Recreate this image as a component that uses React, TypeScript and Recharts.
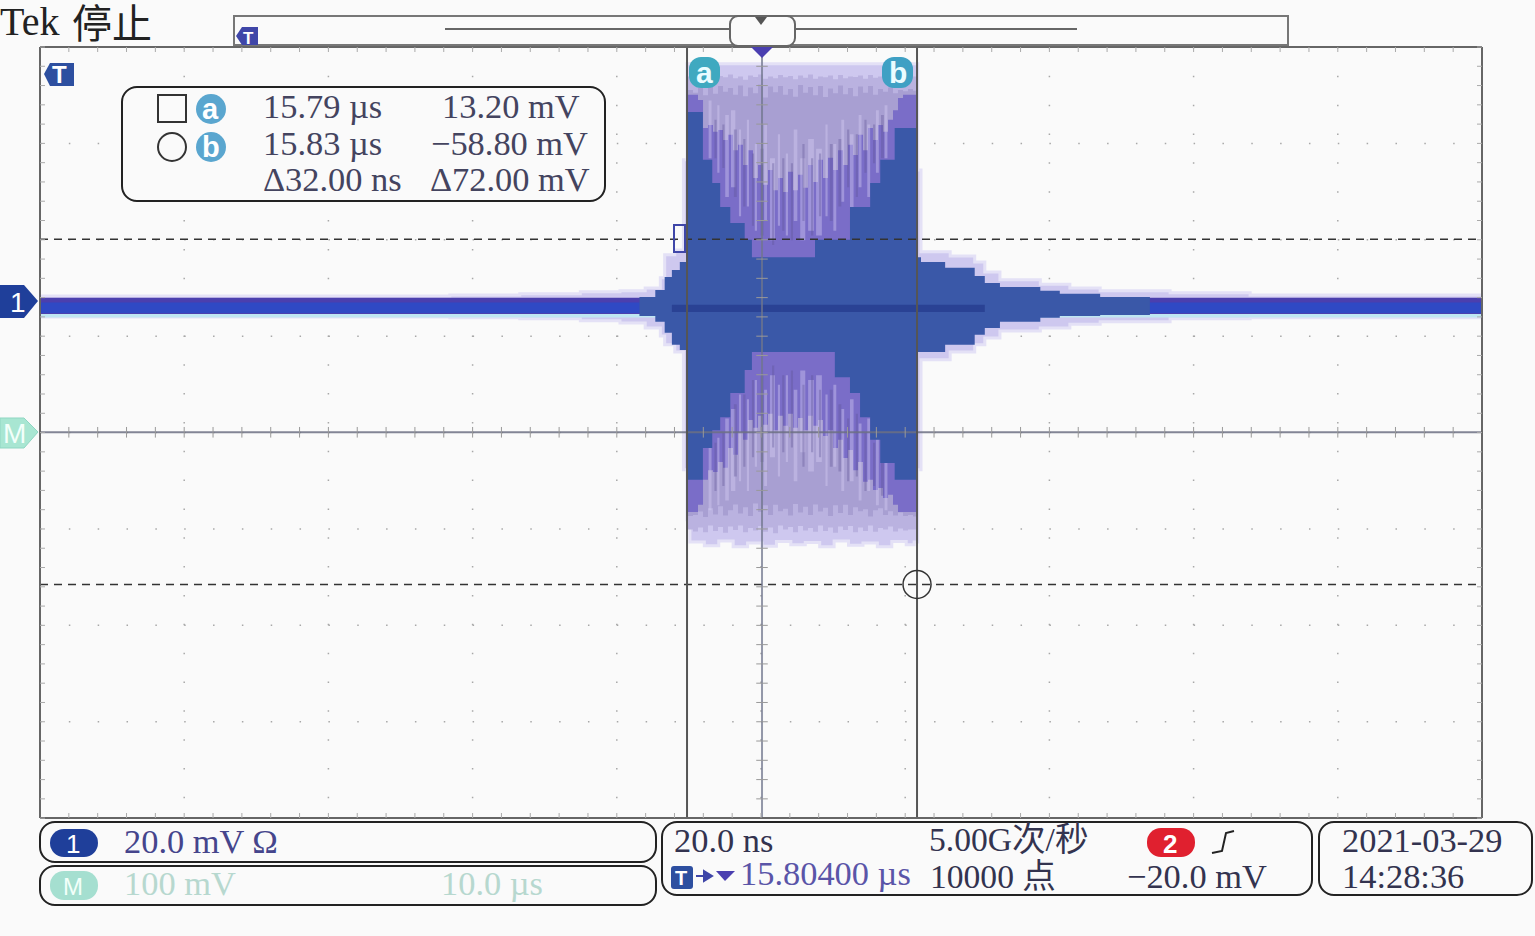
import { Area, ComposedChart, CartesianGrid, ReferenceDot, ReferenceLine, XAxis, YAxis } from "recharts";

const serif = '"Liberation Serif", "Noto Sans CJK SC", serif';
const sans = '"Liberation Sans", sans-serif';

// time in ns around the trigger, voltage in mV, 20 ns/div and 20 mV/div
const timeDomain = [-100.14, 99.86];
const voltDomain = [-106.87, 53.1];
const centerVolt = -26.84;
const cursorA = { time: -10.4, volt: 13.2 };
const cursorB = { time: 21.5, volt: -58.4 };

const gridTimes = Array.from({ length: 11 }, (_, i) => -100.14 + 20 * i);
const gridVolts = Array.from({ length: 9 }, (_, i) => 53.1 - 20 * i);
const fineTimes = Array.from({ length: 51 }, (_, i) => -100.14 + 4 * i);
const fineVolts = Array.from({ length: 41 }, (_, i) => 53.1 - 4 * i);

const haloTimes = [-100, -64, -43.3, -33.6, -25.2, -19.7, -16.2, -14.1, -13.5, -12.1, -10.9, -10.4, -10, -8, -6, -4, -2, 0, 2, 4, 6, 8, 10, 12, 14, 16, 18, 20, 21.1, 21.6, 22.05, 26.1, 29.5, 30.9, 33, 38.6, 42.7, 46.9, 56.6, 67.7, 100];
const haloUpper = [1.45, 1.45, 1.65, 1.9, 2.3, 2.5, 3.1, 5.2, 10, 11, 29.7, 49.6, 49.6, 49.6, 49.6, 49.6, 49.6, 49.6, 49.6, 49.6, 49.6, 49.6, 49.6, 49.6, 49.6, 49.6, 49.6, 49.6, 49.6, 27.6, 10.6, 9.75, 8.5, 6.4, 4.8, 3.9, 3.1, 2.5, 2.1, 1.65, 1.45];
const haloLower = [-2.9, -2.9, -3.1, -3.3, -3.7, -4.15, -5.2, -6.85, -8.7, -10.2, -34.6, -45, -49.6, -50.4, -49.4, -50.6, -49.8, -50.5, -49.5, -50.2, -49.7, -50.6, -49.4, -50.3, -49.8, -50.6, -49.5, -50.2, -49.6, -34.6, -11.8, -10.2, -8.7, -7.3, -5.8, -5.2, -4.4, -3.9, -3.3, -3.1, -2.9];

const baseTimes = [-100, 100];
const fringeUpper = [-0.4, -0.4];
const fringeLower = [-3, -3];
const bandUpper = [1.05, 1.05];
const bandLower = [-2.3, -2.3];
const coreUpper = [0.1, 0.1];
const coreLower = [-2.1, -2.1];

const burstTimes = [
  -10.26, -9.57, -8.88, -8.18, -7.49, -6.8, -6.1, -5.41, -4.72, -4.02,
  -3.33, -2.64, -1.94, -1.25, -0.55, 0.14, 0.83, 1.53, 2.22, 2.91,
  3.61, 4.3, 4.99, 5.69, 6.38, 7.07, 7.77, 8.46, 9.15, 9.85,
  10.54, 11.23, 11.93, 12.62, 13.31, 14.01, 14.7, 15.39, 16.09, 16.78,
  17.48, 18.17, 18.86, 19.56, 20.25, 20.94, 21.5,
];
const midUpper = [
  47, 46.5, 47.2, 46.7, 47.3, 46.4, 47.1, 46.8, 47.4, 46.6,
  47, 46.3, 47.2, 46.9, 47.4, 46.5, 47, 46.6, 47.3, 46.8,
  47.1, 46.4, 47.2, 46.7, 47.4, 46.5, 47, 46.8, 47.2, 46.4,
  47.3, 46.6, 47, 46.9, 47.2, 46.5, 47.3, 46.7, 47, 46.6,
  47.1, 46.8, 47, 46.7, 47, 47, 47,
];
const midLower = [
  -47, -47.4, -46.6, -47.6, -46.2, -47.3, -46.5, -47.7, -46.4, -47.1,
  -46.2, -47.6, -46.7, -47.2, -46.3, -47.5, -46.6, -47.8, -46.2, -47,
  -46.5, -47.6, -46.3, -47.2, -46.7, -47.5, -46.2, -47.3, -46.6, -47.7,
  -46.4, -47.1, -46.3, -47.6, -46.6, -47.3, -46.2, -47.5, -46.7, -47,
  -46.4, -47.4, -46.8, -47.2, -47, -47, -47,
];
const greyUpper = [
  44.2, 43.6, 44.6, 43.1, 44.8, 43.4, 45, 43.8, 44.6, 43.2,
  45.1, 42.9, 44.7, 43.5, 45.3, 42.6, 44.9, 43.7, 45, 43.2,
  44.4, 42.8, 45.2, 43.6, 44.8, 43.1, 45, 42.7, 44.5, 43.5,
  45.1, 43.3, 44.6, 42.9, 44.9, 43.6, 45, 43.2, 44.4, 43.8,
  44.7, 43.5, 44.2, 43.9, 44.4, 44, 44,
];
const greyLower = [
  -44.2, -44, -43.3, -44.4, -42.6, -43.9, -42.2, -44.1, -43, -41.8,
  -43.7, -42.4, -44.2, -41.6, -43.4, -42, -44, -41.9, -43.2, -42.7,
  -44.1, -41.7, -43.5, -42.3, -44, -41.8, -43.3, -42.5, -44.2, -42,
  -43.6, -41.9, -44, -42.4, -43.2, -42.8, -44.3, -43, -42.6, -44,
  -43.2, -44.1, -43.5, -44.2, -44, -44.3, -44.3,
];
const purpleUpper = [
  43.2, 43.2, 42.1, 36.3, 36.9, 35.5, 35.9, 33.8, 34.9, 31.7,
  32.8, 28.6, 31.7, 25.9, 28.6, 24.5, 27.6, 23.4, 25.9, 23,
  27.2, 23.4, 26.6, 23.9, 28.6, 25.1, 29.7, 25.9, 30.1, 27.6,
  31.7, 28.6, 32.8, 30.7, 34.9, 31.7, 36.3, 33.8, 36.9, 35.5,
  38, 40, 42.5, 43.2, 43.2, 43.2, 43.2,
];
const purpleLower = [
  -43.4, -43.4, -41.9, -36.7, -34.7, -35.1, -33, -34.2, -30.1, -31.5,
  -26.8, -28.4, -24.3, -25.9, -23.4, -25.3, -23, -26.4, -23.4, -25.5,
  -23, -25.9, -23.9, -26.4, -23.4, -25.5, -24.3, -27.6, -26.4, -30.1,
  -28.4, -32.2, -30.5, -34.7, -33, -37.1, -36.7, -38.8, -38.4, -40.5,
  -39.8, -41.9, -43.4, -43.4, -43.4, -43.4, -43.4,
];

// thin vertical streaks inside the burst, 0 means no streak in that slot
const streakTimes = [
  -7.4, -7, -6.2, -5.9, -5.1, -4.6, -4.3, -3.7, -3.2, -2.9,
  -2.1, -1.8, -1, -0.7, 0.3, 0.7, 1.1, 1.8, 2.2, 2.5,
  3.3, 3.6, 4.4, 4.9, 5.3, 6, 6.4, 7.2, 7.5, 8.3,
  8.8, 9.1, 9.9, 10.3, 11, 11.4, 12.2, 12.7, 13.4, 13.8,
  14.6, 15, 15.8, 16.2, 17, 17.4,
];
const lightTop = [
  42, 0, 41, 0, 39, 0, 40, 0, 36, 0,
  38, 0, 33, 0, 37, 0, 30, 0, 35, 0,
  31, 0, 36, 0, 30, 0, 34, 0, 32, 0,
  37, 0, 33, 0, 38, 0, 35, 0, 39, 0,
  37, 0, 40, 0, 41, 0,
];
const lightTopEnd = [
  30, 0, 27, 0, 22, 0, 24, 0, 18, 0,
  20, 0, 15, 0, 17, 0, 13, 0, 16, 0,
  14, 0, 17, 0, 13, 0, 15, 0, 14, 0,
  18, 0, 15, 0, 21, 0, 18, 0, 24, 0,
  22, 0, 27, 0, 30, 0,
];
const lightBottom = [
  -30, 0, -28, 0, -24, 0, -22, 0, -19, 0,
  -20, 0, -16, 0, -18, 0, -15, 0, -17, 0,
  -15, 0, -18, 0, -14, 0, -16, 0, -15, 0,
  -19, 0, -17, 0, -22, 0, -20, 0, -25, 0,
  -24, 0, -28, 0, -31, 0,
];
const lightBottomEnd = [
  -43, 0, -42, 0, -41, 0, -39, 0, -37, 0,
  -39, 0, -34, 0, -38, 0, -32, 0, -36, 0,
  -33, 0, -37, 0, -31, 0, -35, 0, -33, 0,
  -38, 0, -34, 0, -39, 0, -37, 0, -41, 0,
  -39, 0, -42, 0, -43, 0,
];
const darkStreakTimes = [
  -6.6, -6.3, -5.5, -5.2, -3.9, -3.5, -2.6, -2.3, -1.4, -1.1,
  -0.2, 0.2, 1.4, 1.7, 2.8, 3.1, 4, 4.3, 5.6, 5.9,
  6.8, 7.1, 7.9, 8.2, 9.4, 9.8, 10.6, 11, 11.8, 12.1,
  13, 13.3, 14.2, 14.5, 15.4, 15.7, 16.5, 16.9,
];
const darkTop = [
  38, 0, 37, 0, 36, 0, 34, 0, 31, 0,
  32, 0, 29, 0, 30, 0, 29, 0, 33, 0,
  30, 0, 31, 0, 33, 0, 34, 0, 36, 0,
  35, 0, 38, 0, 37, 0, 39, 0,
];
const darkTopEnd = [
  30, 0, 28, 0, 22, 0, 20, 0, 16, 0,
  14, 0, 12, 0, 15, 0, 13, 0, 17, 0,
  14, 0, 18, 0, 17, 0, 20, 0, 24, 0,
  22, 0, 27, 0, 29, 0, 30, 0,
];
const darkBottom = [
  -29, 0, -27, 0, -21, 0, -19, 0, -16, 0,
  -15, 0, -13, 0, -15, 0, -14, 0, -17, 0,
  -15, 0, -18, 0, -18, 0, -21, 0, -24, 0,
  -23, 0, -27, 0, -29, 0, -31, 0,
];
const darkBottomEnd = [
  -39, 0, -38, 0, -36, 0, -34, 0, -32, 0,
  -33, 0, -30, 0, -31, 0, -30, 0, -34, 0,
  -31, 0, -32, 0, -34, 0, -35, 0, -37, 0,
  -36, 0, -39, 0, -38, 0, -40, 0,
];

const blueTimes = [-17, -14.8, -13.5, -12.5, -11.4, -10.4, -10.3, -8.2, -6.9, -5.8, -4.4, -2.4, -1.4, 7.35, 10.1, 12.2, 13.6, 15, 16.4, 18.4, 20.8, 21.4, 22.05, 25.4, 29.5, 30.9, 33, 38.6, 41.3, 46.9, 53.8];
const blueUpper = [1.25, 2.7, 5.4, 6.85, 8.5, 11, 39.6, 29.7, 24.9, 19.9, 16.6, 13.1, 9.5, 13.1, 13.1, 19.9, 19.9, 24.9, 29.7, 36.3, 36.3, 9.5, 8.5, 7.3, 5.6, 4.15, 3.3, 2.5, 1.9, 1.25, 0.4];
const blueLower = [-2.7, -3.9, -6.2, -8.7, -9.75, -10.2, -36.7, -30.1, -26.4, -23.7, -18.7, -13.9, -10.2, -10.2, -15.4, -18.7, -23.7, -28.4, -33.2, -36.7, -36.7, -10.2, -10.2, -8.7, -6.6, -5.2, -3.9, -3.1, -2.7, -2.5, -1.9];

const darkTimes = [-12.5, 30.9];
const darkUpper = [-0.4, -0.4];
const darkLower = [-1.9, -1.9];

const rows = (times: number[], upper: number[], lower: number[]) =>
  times.map((time, i) => ({ time, range: [lower[i], upper[i]] }));

const layers = [
  { name: "halo", fill: "#cec8ef", opacity: 1, stroke: "#e4e1f6", data: rows(haloTimes, haloUpper, haloLower) },
  { name: "fringe", fill: "#bfe6f2", opacity: 1, stroke: "none", data: rows(baseTimes, fringeUpper, fringeLower) },
  { name: "band", fill: "#4b3fae", opacity: 1, stroke: "none", data: rows(baseTimes, bandUpper, bandLower) },
  { name: "core", fill: "#2f49c4", opacity: 1, stroke: "none", data: rows(baseTimes, coreUpper, coreLower) },
  { name: "mid", fill: "#bab2e0", opacity: 1, stroke: "none", data: rows(burstTimes, midUpper, midLower) },
  { name: "grey", fill: "#a89fd2", opacity: 1, stroke: "none", data: rows(burstTimes, greyUpper, greyLower) },
  { name: "purple", fill: "#7a6dc8", opacity: 1, stroke: "none", data: rows(burstTimes, purpleUpper, purpleLower) },
  { name: "lightTop", fill: "#d6d0f6", opacity: 0.4, stroke: "none", data: rows(streakTimes, lightTop, lightTopEnd) },
  { name: "lightBottom", fill: "#d6d0f6", opacity: 0.4, stroke: "none", data: rows(streakTimes, lightBottom, lightBottomEnd) },
  { name: "darkTop", fill: "#5f5496", opacity: 0.35, stroke: "none", data: rows(darkStreakTimes, darkTop, darkTopEnd) },
  { name: "darkBottom", fill: "#5f5496", opacity: 0.35, stroke: "none", data: rows(darkStreakTimes, darkBottom, darkBottomEnd) },
  { name: "blue", fill: "#3a58a8", opacity: 1, stroke: "none", data: rows(blueTimes, blueUpper, blueLower) },
  { name: "dark", fill: "#2a4294", opacity: 1, stroke: "none", data: rows(darkTimes, darkUpper, darkLower) },
];

function Txt({ x, base, size = 34.4, color = "#33334f", font = serif, bold = false, children }: any) {
  return (
    <div style={{ position: "absolute", left: x, top: base - 0.7875 * size, fontSize: size, lineHeight: 0.9, color, fontFamily: font, fontWeight: bold ? 700 : 400, whiteSpace: "pre" }}>
      {children}
    </div>
  );
}

function Panel({ x, y, w, h }: any) {
  return <rect x={x} y={y} width={w} height={h} rx={15} fill="#fafafa" stroke="#222" strokeWidth={2} />;
}

function Shapes() {
  return (
    <svg width={1535} height={936} style={{ position: "absolute", left: 0, top: 0 }}>
      {/* record overview strip */}
      <rect x={234} y={16} width={1054} height={29} fill="#fafafa" stroke="#777" strokeWidth={2} />
      <line x1={445} x2={1077} y1={29} y2={29} stroke="#666" strokeWidth={2} />
      <rect x={730} y={16} width={65} height={30} rx={8} fill="#fafafa" stroke="#666" strokeWidth={2} />
      <path d="M755 17 L767 17 L761 25 Z" fill="#555" />
      <path d="M236 36 L242 27 L258 27 L258 45 L242 45 Z" fill="#3f46a8" />
      {/* channel and reference flags */}
      <path d="M44 74 L50 63 L74 63 L74 86 L50 86 Z" fill="#2d4fa0" />
      <path d="M0 285 L24 285 L38 301 L24 318 L0 318 Z" fill="#1f3f9a" />
      <path d="M0 418 L24 418 L38 432 L24 448 L0 448 Z" fill="#a8e6d2" stroke="#8fd6c2" />
      <path d="M751 47 L773 47 L762 58 Z" fill="#4a3fb0" />
      <rect x={674} y={225} width={11} height={27} fill="none" stroke="#3f46a8" strokeWidth={2} />
      {/* cursor badges */}
      <rect x={689} y={57} width={31} height={31} rx={12} fill="#3fa9c0" />
      <rect x={882} y={57} width={31} height={31} rx={12} fill="#3fa0c4" />
      {/* readout box */}
      <rect x={122} y={87} width={483} height={114} rx={15} fill="#fafafa" stroke="#222" strokeWidth={2} />
      <rect x={158} y={95} width={28} height={27} fill="none" stroke="#333" strokeWidth={2} />
      <circle cx={172} cy={147} r={14} fill="none" stroke="#333" strokeWidth={2} />
      <circle cx={211} cy={109} r={15} fill="#5aa6cf" />
      <circle cx={211} cy={147} r={15} fill="#5aa6cf" />
      {/* status panels */}
      <Panel x={40} y={822} w={616} h={40} />
      <Panel x={40} y={866} w={616} h={39} />
      <Panel x={662} y={822} w={650} h={73} />
      <Panel x={1319} y={822} w={213} h={73} />
      <rect x={50} y={829} width={48} height={28} rx={14} fill="#1f3f9a" />
      <rect x={50} y={871} width={48} height={29} rx={14} fill="#a5dfd0" />
      <rect x={1147} y={828} width={48} height={29} rx={14} fill="#e0202f" />
      <path d="M1212 853 L1222 851 L1226 833 L1234 831" fill="none" stroke="#222" strokeWidth={2} />
      <rect x={671} y={866} width={22} height={23} rx={3} fill="#2d4fa0" />
      <path d="M696 876 L708 876 M704 871 L712 876 L704 881 Z" fill="#3f46a8" stroke="#3f46a8" strokeWidth={2} />
      <path d="M716 871 L735 871 L725 881 Z" fill="#4a3fb0" />
    </svg>
  );
}

function Labels() {
  return (
    <>
      <Txt x={0} base={35} size={40} color="#222">Tek</Txt>
      <Txt x={72} base={38} size={40} color="#222">停止</Txt>
      <Txt x={52} base={83} size={24} color="#fff" font={sans} bold>T</Txt>
      <Txt x={243} base={44} size={17} color="#fff" font={sans} bold>T</Txt>
      <Txt x={10} base={312} size={28} color="#fff" font={sans}>1</Txt>
      <Txt x={3} base={443} size={28} color="#f2fffa" font={sans}>M</Txt>
      <Txt x={696} base={83} size={30} color="#eafcff" font={sans} bold>a</Txt>
      <Txt x={889} base={83} size={30} color="#eafcff" font={sans} bold>b</Txt>
      <Txt x={202} base={119} size={29} color="#fff" font={sans} bold>a</Txt>
      <Txt x={202} base={157} size={29} color="#fff" font={sans} bold>b</Txt>

      <Txt x={263} base={118} color="#44445f">15.79 µs</Txt>
      <Txt x={442} base={118} color="#44445f">13.20 mV</Txt>
      <Txt x={263} base={155} color="#44445f">15.83 µs</Txt>
      <Txt x={431} base={155} color="#44445f">−58.80 mV</Txt>
      <Txt x={263} base={191} color="#44445f">Δ32.00 ns</Txt>
      <Txt x={430} base={191} color="#44445f">Δ72.00 mV</Txt>

      <Txt x={66} base={853} size={26} color="#fff" font={sans}>1</Txt>
      <Txt x={63} base={895} size={24} color="#f2fffa" font={sans}>M</Txt>
      <Txt x={124} base={853} color="#45458c">20.0 mV Ω</Txt>
      <Txt x={124} base={895} color="#b7d8cf">100 mV</Txt>
      <Txt x={441} base={895} color="#b7d8cf">10.0 µs</Txt>

      <Txt x={674} base={852}>20.0 ns</Txt>
      <Txt x={740} base={885} color="#5a55a8">15.80400 µs</Txt>
      <Txt x={929} base={851} size={33.6}>5.00G次/秒</Txt>
      <Txt x={930} base={888} size={33.6}>10000 点</Txt>
      <Txt x={1163} base={853} size={26} color="#fff" font={sans} bold>2</Txt>
      <Txt x={1127} base={888}>−20.0 mV</Txt>
      <Txt x={675} base={885} size={20} color="#fff" font={sans} bold>T</Txt>

      <Txt x={1342} base={852}>2021-03-29</Txt>
      <Txt x={1342} base={888}>14:28:36</Txt>
    </>
  );
}

export default function App() {
  const frame = { stroke: "#666", strokeWidth: 2 };
  const tickStyle = { stroke: "#aaa", strokeWidth: 1 };
  return (
    <div style={{ position: "absolute", left: 0, top: 0, width: 1535, height: 936, background: "#fafafa", overflow: "hidden" }}>
      <div style={{ position: "absolute", left: 0, top: 0 }}>
        <ComposedChart width={1535} height={936} margin={{ top: 47, right: 53, bottom: 118, left: 40 }}>
          <XAxis type="number" dataKey="time" domain={timeDomain} allowDataOverflow ticks={fineTimes} mirror height={1} axisLine={frame} tickLine={tickStyle} tickSize={5} tickFormatter={() => ""} />
          <XAxis xAxisId="top" orientation="top" type="number" dataKey="time" domain={timeDomain} allowDataOverflow ticks={fineTimes} mirror height={1} axisLine={frame} tickLine={tickStyle} tickSize={5} tickFormatter={() => ""} />
          <YAxis type="number" domain={voltDomain} allowDataOverflow ticks={fineVolts} mirror width={1} axisLine={frame} tickLine={tickStyle} tickSize={5} tickFormatter={() => ""} />
          <YAxis yAxisId="right" orientation="right" type="number" domain={voltDomain} allowDataOverflow ticks={fineVolts} mirror width={1} axisLine={frame} tickLine={tickStyle} tickSize={5} tickFormatter={() => ""} />
          <CartesianGrid stroke="#a8a8a8" strokeWidth={1.5} strokeDasharray="1.5 27.34" horizontalValues={gridVolts} verticalValues={gridTimes} />
          <ReferenceLine y={cursorA.volt} stroke="#333" strokeWidth={1.5} strokeDasharray="8 6" />
          <ReferenceLine y={cursorB.volt} stroke="#333" strokeWidth={1.5} strokeDasharray="8 6" />
          {layers.map((layer) => (
            <Area key={layer.name} data={layer.data} dataKey="range" type="stepAfter" stroke={layer.stroke} strokeWidth={layer.stroke === "none" ? 0 : 3} fill={layer.fill} fillOpacity={layer.opacity} dot={false} activeDot={false} isAnimationActive={false} />
          ))}
          <ReferenceLine y={centerVolt} stroke="rgba(108,112,130,0.85)" strokeWidth={2} />
          <ReferenceLine x={0} stroke="rgba(112,118,140,0.75)" strokeWidth={2} />
          {fineTimes.map((t) => (
            <ReferenceLine key={`cx${t}`} segment={[{ x: t, y: centerVolt - 1.1 }, { x: t, y: centerVolt + 1.1 }]} stroke="#999" />
          ))}
          {fineVolts.map((v) => (
            <ReferenceLine key={`cy${v}`} segment={[{ x: -0.8, y: v }, { x: 0.8, y: v }]} stroke="#999" />
          ))}
          <ReferenceLine x={cursorA.time} stroke="#555" strokeWidth={2} />
          <ReferenceLine x={cursorB.time} stroke="#555" strokeWidth={2} />
          <ReferenceDot x={cursorB.time} y={cursorB.volt} r={14} fill="none" stroke="#333" strokeWidth={1.5} />
        </ComposedChart>
      </div>
      <Shapes />
      <Labels />
    </div>
  );
}
